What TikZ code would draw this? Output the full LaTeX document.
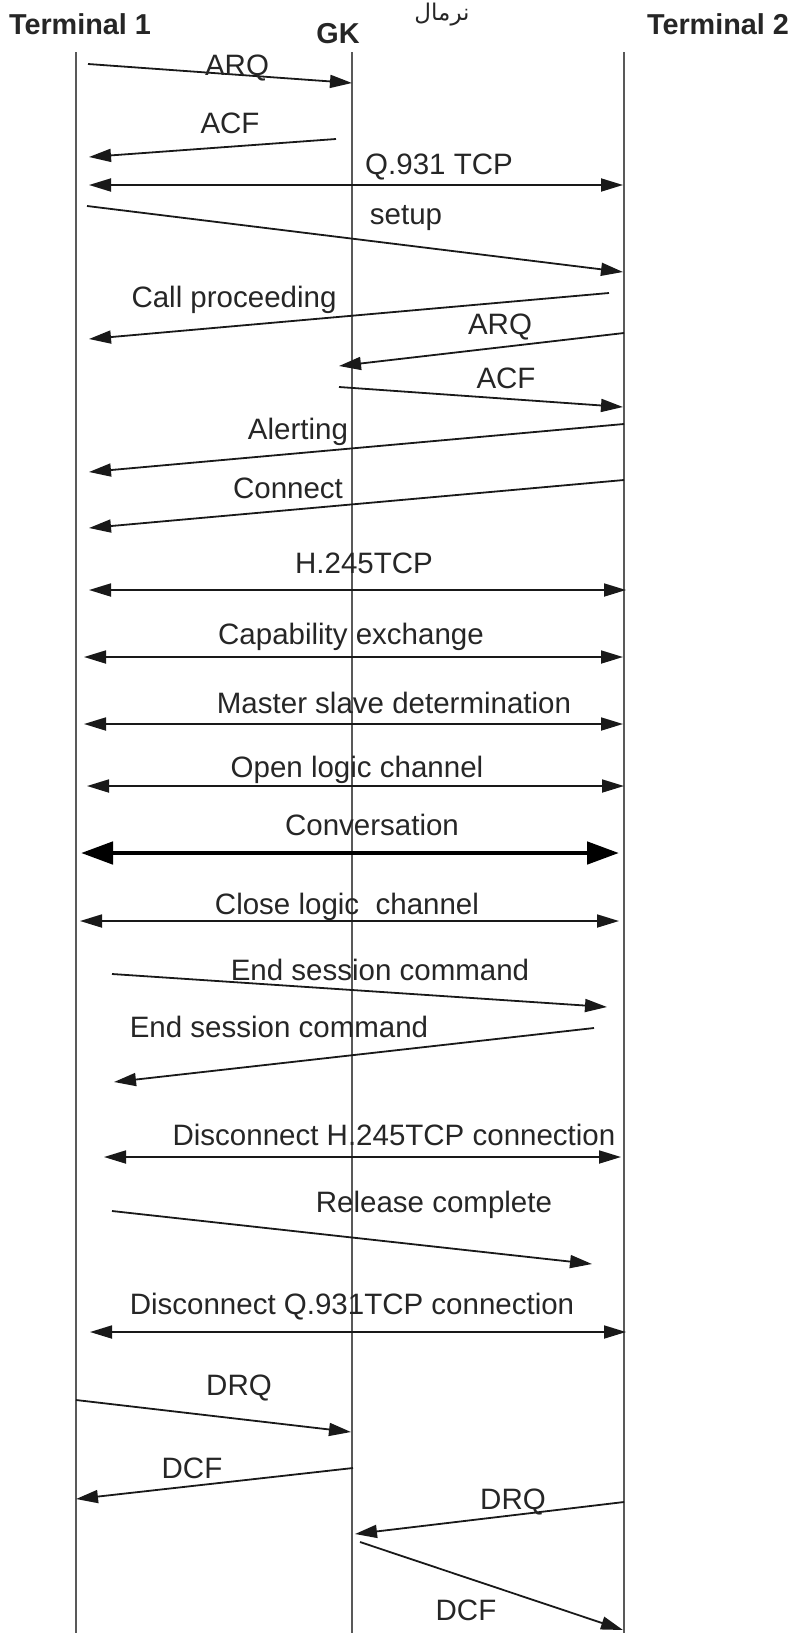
\documentclass[tikz,border=0pt]{standalone}
\usepackage{fontspec}
\setmainfont{Liberation Sans}
\newfontfamily\arabicfont[Script=Arabic]{DejaVu Sans}
\TeXXeTstate=1
\usetikzlibrary{arrows.meta}

\tikzset{
    lifeline/.style={draw=black!65, line width=0.65pt},
    head/.style={font=\fontsize{14.4pt}{16pt}\selectfont\bfseries, text=black!85, inner sep=0pt},
    lbl/.style={font=\fontsize{14.75pt}{17pt}\selectfont, text=black!85, inner sep=0pt},
    msg/.style={draw=black!90, line width=0.9pt, -{Triangle[length=11pt,width=6.5pt]}},
    dbl/.style={draw=black!90, line width=0.9pt, {Triangle[length=11pt,width=6.5pt]}-{Triangle[length=11pt,width=6.5pt]}},
    conv/.style={draw=black, line width=2.4pt, {Triangle[length=16pt,width=11pt]}-{Triangle[length=16pt,width=11pt]}},
}

\begin{document}
\begin{tikzpicture}[x=0.5pt,y=-0.5pt]
    \useasboundingbox (0,0) rectangle (804,1633);

    % entities
    \node[head] (t1) at (80,24) {Terminal 1};
    \node[head] (gk) at (338,34) {GK};
    \node[head] (t2) at (718,24) {Terminal 2};
    \node[inner sep=0pt, font=\arabicfont\fontsize{11.5pt}{13pt}\selectfont, text=black!85] (nrm) at (442,15) {\beginR نرمال\endR};

    % lifelines
    \foreach \n/\x in {t1/76,gk/352,t2/624} {
        \coordinate (\n top) at (\x,52);
        \coordinate (\n bot) at (\x,1633);
        \draw[lifeline] (\n top) -- (\n bot);
    }

    % messages: from / to / style / text / label position
    \foreach \ax/\ay/\bx/\by/\s/\t/\lx/\ly [count=\i] in {
        88/64/352/83/msg/ARQ/237/68,
        336/139/89/157/msg/ACF/230/123,
        89/185/623/185/dbl/Q.931 TCP/439/167,
        87/206/623/272/msg/setup/406/218,
        609/293/89/339/msg/Call proceeding/234/300,
        624/333/339/366/msg/ARQ/500/327,
        339/387/623/407/msg/ACF/506/378,
        624/424/89/472/msg/Alerting/298/432,
        624/480/89/528/msg/Connect/288/488,
        89/590/626/590/dbl/H.245TCP/364/563,
        84/657/623/657/dbl/Capability exchange/351/637,
        84/724/623/724/dbl/Master slave determination/394/703,
        87/786/624/786/dbl/Open logic channel/357/770,
        81/853/619/853/conv/Conversation/372/825,
        80/921/619/921/dbl/Close logic~ channel/347/907,
        112/974/607/1007/msg/End session command/380/970,
        594/1028/114/1082/msg/End session command/279/1027,
        104/1157/621/1157/dbl/Disconnect H.245TCP connection/394/1135,
        112/1211/592/1264/msg/Release complete/434/1205,
        90/1332/626/1332/dbl/Disconnect Q.931TCP connection/352/1307,
        76/1400/351/1432/msg/DRQ/239/1388,
        353/1468/76/1499/msg/DCF/192/1468,
        624/1502/355/1534/msg/DRQ/513/1502,
        360/1542/623/1630/msg/DCF/466/1610} {
        \coordinate (m\i a) at (\ax,\ay);
        \coordinate (m\i b) at (\bx,\by);
        \draw[\s] (m\i a) -- (m\i b);
        \node[lbl] (l\i) at (\lx,\ly) {\t};
    }
\end{tikzpicture}
\end{document}
